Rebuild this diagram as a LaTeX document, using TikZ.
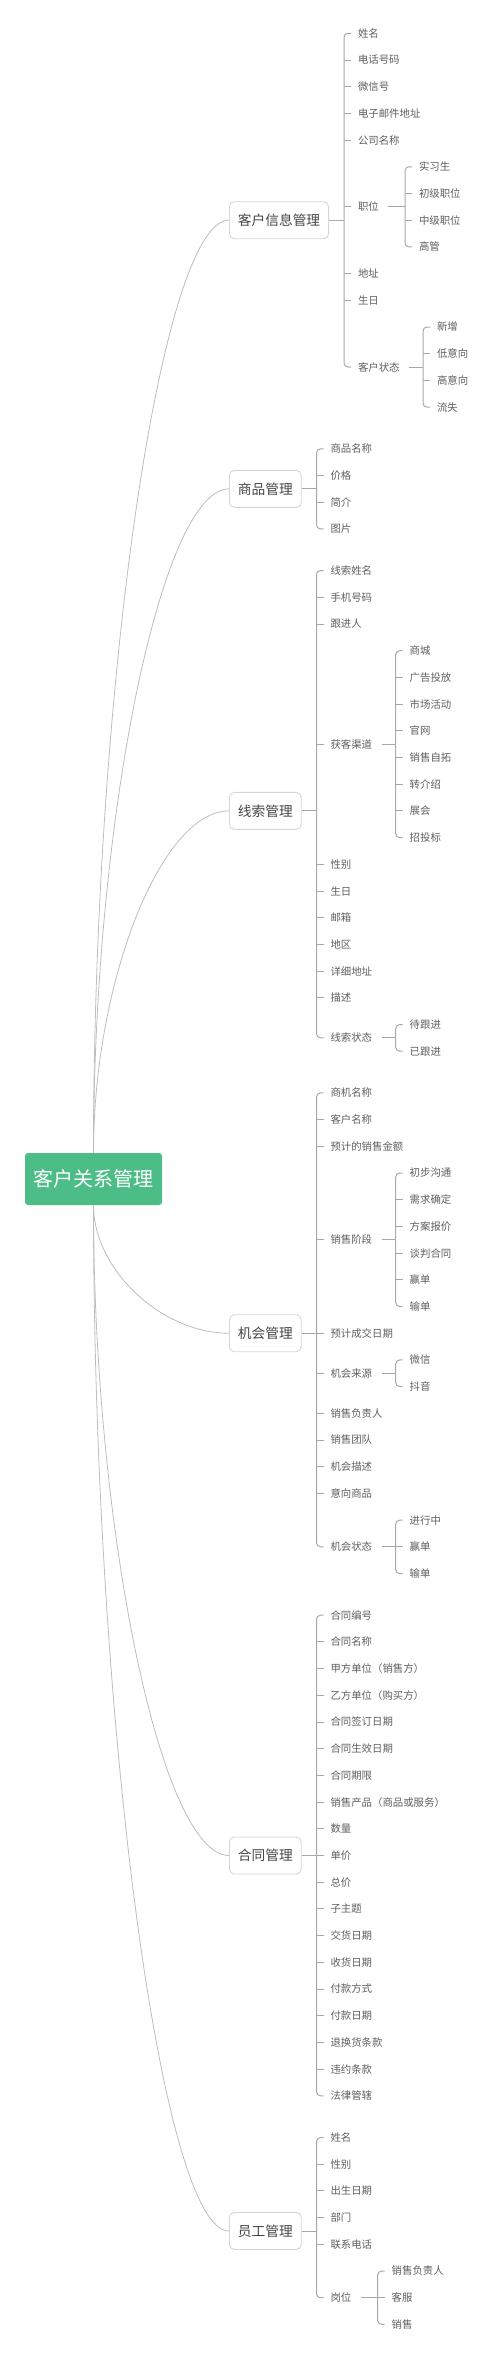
\documentclass[tikz,border=0pt]{standalone}
\usepackage{fontspec}
\setmainfont{Noto Sans CJK SC}
\definecolor{rootgreen}{HTML}{4DBD88}
\definecolor{topicline}{HTML}{D6D6D6}
\definecolor{topictext}{HTML}{454545}
\definecolor{leaftext}{HTML}{5E5E5E}
\definecolor{curvegray}{HTML}{BDBDBD}
\definecolor{bracegray}{HTML}{A8A8A8}

\begin{document}
\begin{tikzpicture}[x=1pt,y=-1pt,
  root/.style={fill=rootgreen,text=white,rounded corners=3pt,minimum height=52pt,inner xsep=8.5pt,font=\fontsize{20}{24}\selectfont},
  topic/.style={draw=topicline,line width=0.9pt,fill=white,rounded corners=5pt,minimum height=37pt,inner xsep=8.5pt,anchor=west,text=topictext,font=\fontsize{13.7}{16}\selectfont},
  leaf/.style={anchor=west,inner sep=0pt,outer xsep=7pt,outer ysep=0pt,text=leaftext,font=\fontsize{10.4}{12}\selectfont},
  trunk/.style={draw=curvegray,line width=0.8pt},
  brace/.style={draw=bracegray,line width=1pt,rounded corners=4pt},
  twig/.style={draw=bracegray,line width=0.9pt}]
\useasboundingbox (0,0) rectangle (500,2361);

% root
\node[root] (crm) at (93.5,1179) {客户关系管理};

% main topics
\node[topic] (kh) at (229,220.2) {客户信息管理};
\node[topic] (sp) at (229,488.85) {商品管理};
\node[topic] (xs) at (229,810.9) {线索管理};
\node[topic] (jh) at (229,1333.2) {机会管理};
\node[topic] (ht) at (229,1855.5) {合同管理};
\node[topic] (yg) at (229,2230.95) {员工管理};

\draw[trunk] (crm.north) .. controls (93.5,686.6) and (161,220.2) .. (kh.west);
\draw[trunk] (crm.north) .. controls (93.5,821) and (161,488.85) .. (sp.west);
\draw[trunk] (crm.north) .. controls (93.5,982) and (161,810.9) .. (xs.west);
\draw[trunk] (crm.south) .. controls (93.5,1269.1) and (161,1333.2) .. (jh.west);
\draw[trunk] (crm.south) .. controls (93.5,1530.3) and (161,1855.5) .. (ht.west);
\draw[trunk] (crm.south) .. controls (93.5,1718) and (161,2230.95) .. (yg.west);

% 客户信息管理
\node[leaf] (kh1) at (351,33.3) {姓名};
\node[leaf] (kh2) at (351,60.0) {电话号码};
\node[leaf] (kh3) at (351,86.7) {微信号};
\node[leaf] (kh4) at (351,113.4) {电子邮件地址};
\node[leaf] (kh5) at (351,140.1) {公司名称};
\node[leaf] (kh6) at (351,206.85) {职位};
\node[leaf] (kh7) at (351,273.6) {地址};
\node[leaf] (kh8) at (351,300.3) {生日};
\node[leaf] (kh9) at (351,367.05) {客户状态};
\node[leaf] (kh6a) at (412,166.8) {实习生};
\node[leaf] (kh6b) at (412,193.5) {初级职位};
\node[leaf] (kh6c) at (412,220.2) {中级职位};
\node[leaf] (kh6d) at (412,246.9) {高管};
\node[leaf] (kh9a) at (430,327.0) {新增};
\node[leaf] (kh9b) at (430,353.7) {低意向};
\node[leaf] (kh9c) at (430,380.4) {高意向};
\node[leaf] (kh9d) at (430,407.1) {流失};
\coordinate (kh-b) at (344,220.2);
\coordinate (kh6-b) at (405,206.85);
\coordinate (kh9-b) at (423,367.05);
\draw[twig] (kh.east) -- (kh-b);
\draw[brace] (kh1.west) -| (kh-b) |- (kh9.west);
\draw[twig] (kh-b |- kh2.west) -- (kh2.west) (kh-b |- kh3.west) -- (kh3.west)
  (kh-b |- kh4.west) -- (kh4.west) (kh-b |- kh5.west) -- (kh5.west)
  (kh-b |- kh6.west) -- (kh6.west) (kh-b |- kh7.west) -- (kh7.west)
  (kh-b |- kh8.west) -- (kh8.west);
\draw[twig,shorten <=2.5pt] (kh6.east) -- (kh6-b);
\draw[brace] (kh6a.west) -| (kh6-b) |- (kh6d.west);
\draw[twig] (kh6-b |- kh6b.west) -- (kh6b.west) (kh6-b |- kh6c.west) -- (kh6c.west);
\draw[twig,shorten <=2.5pt] (kh9.east) -- (kh9-b);
\draw[brace] (kh9a.west) -| (kh9-b) |- (kh9d.west);
\draw[twig] (kh9-b |- kh9b.west) -- (kh9b.west) (kh9-b |- kh9c.west) -- (kh9c.west);

% 商品管理
\node[leaf] (sp1) at (323.5,448.8) {商品名称};
\node[leaf] (sp2) at (323.5,475.5) {价格};
\node[leaf] (sp3) at (323.5,502.2) {简介};
\node[leaf] (sp4) at (323.5,528.9) {图片};
\coordinate (sp-b) at (316.5,488.85);
\draw[twig] (sp.east) -- (sp-b);
\draw[brace] (sp1.west) -| (sp-b) |- (sp4.west);
\draw[twig] (sp-b |- sp2.west) -- (sp2.west) (sp-b |- sp3.west) -- (sp3.west);

% 线索管理
\node[leaf] (xs1) at (323.5,570.6) {线索姓名};
\node[leaf] (xs2) at (323.5,597.3) {手机号码};
\node[leaf] (xs3) at (323.5,624.0) {跟进人};
\node[leaf] (xs4) at (323.5,744.15) {获客渠道};
\node[leaf] (xs5) at (323.5,864.3) {性别};
\node[leaf] (xs6) at (323.5,891.0) {生日};
\node[leaf] (xs7) at (323.5,917.7) {邮箱};
\node[leaf] (xs8) at (323.5,944.4) {地区};
\node[leaf] (xs9) at (323.5,971.1) {详细地址};
\node[leaf] (xs10) at (323.5,997.8) {描述};
\node[leaf] (xs11) at (323.5,1037.85) {线索状态};
\node[leaf] (xs4a) at (402.7,650.7) {商城};
\node[leaf] (xs4b) at (402.7,677.4) {广告投放};
\node[leaf] (xs4c) at (402.7,704.1) {市场活动};
\node[leaf] (xs4d) at (402.7,730.8) {官网};
\node[leaf] (xs4e) at (402.7,757.5) {销售自拓};
\node[leaf] (xs4f) at (402.7,784.2) {转介绍};
\node[leaf] (xs4g) at (402.7,810.9) {展会};
\node[leaf] (xs4h) at (402.7,837.6) {招投标};
\node[leaf] (xs11a) at (402.7,1024.5) {待跟进};
\node[leaf] (xs11b) at (402.7,1051.2) {已跟进};
\coordinate (xs-b) at (316.5,810.9);
\coordinate (xs4-b) at (395.7,744.15);
\coordinate (xs11-b) at (395.7,1037.85);
\draw[twig] (xs.east) -- (xs-b);
\draw[brace] (xs1.west) -| (xs-b) |- (xs11.west);
\draw[twig] (xs-b |- xs2.west) -- (xs2.west) (xs-b |- xs3.west) -- (xs3.west)
  (xs-b |- xs4.west) -- (xs4.west) (xs-b |- xs5.west) -- (xs5.west)
  (xs-b |- xs6.west) -- (xs6.west) (xs-b |- xs7.west) -- (xs7.west)
  (xs-b |- xs8.west) -- (xs8.west) (xs-b |- xs9.west) -- (xs9.west)
  (xs-b |- xs10.west) -- (xs10.west);
\draw[twig,shorten <=2.5pt] (xs4.east) -- (xs4-b);
\draw[brace] (xs4a.west) -| (xs4-b) |- (xs4h.west);
\draw[twig] (xs4-b |- xs4b.west) -- (xs4b.west) (xs4-b |- xs4c.west) -- (xs4c.west)
  (xs4-b |- xs4d.west) -- (xs4d.west) (xs4-b |- xs4e.west) -- (xs4e.west)
  (xs4-b |- xs4f.west) -- (xs4f.west) (xs4-b |- xs4g.west) -- (xs4g.west);
\draw[twig,shorten <=2.5pt] (xs11.east) -- (xs11-b);
\draw[brace] (xs11a.west) -| (xs11-b) |- (xs11b.west);

% 机会管理
\node[leaf] (jh1) at (323.5,1092.9) {商机名称};
\node[leaf] (jh2) at (323.5,1119.6) {客户名称};
\node[leaf] (jh3) at (323.5,1146.3) {预计的销售金额};
\node[leaf] (jh4) at (323.5,1239.75) {销售阶段};
\node[leaf] (jh5) at (323.5,1333.2) {预计成交日期};
\node[leaf] (jh6) at (323.5,1373.25) {机会来源};
\node[leaf] (jh7) at (323.5,1413.3) {销售负责人};
\node[leaf] (jh8) at (323.5,1440.0) {销售团队};
\node[leaf] (jh9) at (323.5,1466.7) {机会描述};
\node[leaf] (jh10) at (323.5,1493.4) {意向商品};
\node[leaf] (jh11) at (323.5,1546.8) {机会状态};
\node[leaf] (jh4a) at (402.7,1173.0) {初步沟通};
\node[leaf] (jh4b) at (402.7,1199.7) {需求确定};
\node[leaf] (jh4c) at (402.7,1226.4) {方案报价};
\node[leaf] (jh4d) at (402.7,1253.1) {谈判合同};
\node[leaf] (jh4e) at (402.7,1279.8) {赢单};
\node[leaf] (jh4f) at (402.7,1306.5) {输单};
\node[leaf] (jh6a) at (402.7,1359.9) {微信};
\node[leaf] (jh6b) at (402.7,1386.6) {抖音};
\node[leaf] (jh11a) at (402.7,1520.1) {进行中};
\node[leaf] (jh11b) at (402.7,1546.8) {赢单};
\node[leaf] (jh11c) at (402.7,1573.5) {输单};
\coordinate (jh-b) at (316.5,1333.2);
\coordinate (jh4-b) at (395.7,1239.75);
\coordinate (jh6-b) at (395.7,1373.25);
\coordinate (jh11-b) at (395.7,1546.8);
\draw[twig] (jh.east) -- (jh-b);
\draw[brace] (jh1.west) -| (jh-b) |- (jh11.west);
\draw[twig] (jh-b |- jh2.west) -- (jh2.west) (jh-b |- jh3.west) -- (jh3.west)
  (jh-b |- jh4.west) -- (jh4.west) (jh-b |- jh5.west) -- (jh5.west)
  (jh-b |- jh6.west) -- (jh6.west) (jh-b |- jh7.west) -- (jh7.west)
  (jh-b |- jh8.west) -- (jh8.west) (jh-b |- jh9.west) -- (jh9.west)
  (jh-b |- jh10.west) -- (jh10.west);
\draw[twig,shorten <=2.5pt] (jh4.east) -- (jh4-b);
\draw[brace] (jh4a.west) -| (jh4-b) |- (jh4f.west);
\draw[twig] (jh4-b |- jh4b.west) -- (jh4b.west) (jh4-b |- jh4c.west) -- (jh4c.west)
  (jh4-b |- jh4d.west) -- (jh4d.west) (jh4-b |- jh4e.west) -- (jh4e.west);
\draw[twig,shorten <=2.5pt] (jh6.east) -- (jh6-b);
\draw[brace] (jh6a.west) -| (jh6-b) |- (jh6b.west);
\draw[twig,shorten <=2.5pt] (jh11.east) -- (jh11-b);
\draw[brace] (jh11a.west) -| (jh11-b) |- (jh11c.west);
\draw[twig] (jh11-b) -- (jh11b.west);

% 合同管理
\node[leaf] (ht1) at (323.5,1615.2) {合同编号};
\node[leaf] (ht2) at (323.5,1641.9) {合同名称};
\node[leaf] (ht3) at (323.5,1668.6) {甲方单位（销售方）};
\node[leaf] (ht4) at (323.5,1695.3) {乙方单位（购买方）};
\node[leaf] (ht5) at (323.5,1722.0) {合同签订日期};
\node[leaf] (ht6) at (323.5,1748.7) {合同生效日期};
\node[leaf] (ht7) at (323.5,1775.4) {合同期限};
\node[leaf] (ht8) at (323.5,1802.1) {销售产品（商品或服务）};
\node[leaf] (ht9) at (323.5,1828.8) {数量};
\node[leaf] (ht10) at (323.5,1855.5) {单价};
\node[leaf] (ht11) at (323.5,1882.2) {总价};
\node[leaf] (ht12) at (323.5,1908.9) {子主题};
\node[leaf] (ht13) at (323.5,1935.6) {交货日期};
\node[leaf] (ht14) at (323.5,1962.3) {收货日期};
\node[leaf] (ht15) at (323.5,1989.0) {付款方式};
\node[leaf] (ht16) at (323.5,2015.7) {付款日期};
\node[leaf] (ht17) at (323.5,2042.4) {退换货条款};
\node[leaf] (ht18) at (323.5,2069.1) {违约条款};
\node[leaf] (ht19) at (323.5,2095.8) {法律管辖};
\coordinate (ht-b) at (316.5,1855.5);
\draw[twig] (ht.east) -- (ht-b);
\draw[brace] (ht1.west) -| (ht-b) |- (ht19.west);
\draw[twig] (ht-b |- ht2.west) -- (ht2.west) (ht-b |- ht3.west) -- (ht3.west)
  (ht-b |- ht4.west) -- (ht4.west) (ht-b |- ht5.west) -- (ht5.west)
  (ht-b |- ht6.west) -- (ht6.west) (ht-b |- ht7.west) -- (ht7.west)
  (ht-b |- ht8.west) -- (ht8.west) (ht-b |- ht9.west) -- (ht9.west)
  (ht-b |- ht10.west) -- (ht10.west) (ht-b |- ht11.west) -- (ht11.west)
  (ht-b |- ht12.west) -- (ht12.west) (ht-b |- ht13.west) -- (ht13.west)
  (ht-b |- ht14.west) -- (ht14.west) (ht-b |- ht15.west) -- (ht15.west)
  (ht-b |- ht16.west) -- (ht16.west) (ht-b |- ht17.west) -- (ht17.west)
  (ht-b |- ht18.west) -- (ht18.west);

% 员工管理
\node[leaf] (yg1) at (323.5,2137.5) {姓名};
\node[leaf] (yg2) at (323.5,2164.2) {性别};
\node[leaf] (yg3) at (323.5,2190.9) {出生日期};
\node[leaf] (yg4) at (323.5,2217.6) {部门};
\node[leaf] (yg5) at (323.5,2244.3) {联系电话};
\node[leaf] (yg6) at (323.5,2297.7) {岗位};
\node[leaf] (yg6a) at (384.7,2271.0) {销售负责人};
\node[leaf] (yg6b) at (384.7,2297.7) {客服};
\node[leaf] (yg6c) at (384.7,2324.4) {销售};
\coordinate (yg-b) at (316.5,2230.95);
\coordinate (yg6-b) at (377.7,2297.7);
\draw[twig] (yg.east) -- (yg-b);
\draw[brace] (yg1.west) -| (yg-b) |- (yg6.west);
\draw[twig] (yg-b |- yg2.west) -- (yg2.west) (yg-b |- yg3.west) -- (yg3.west)
  (yg-b |- yg4.west) -- (yg4.west) (yg-b |- yg5.west) -- (yg5.west);
\draw[twig,shorten <=2.5pt] (yg6.east) -- (yg6-b);
\draw[brace] (yg6a.west) -| (yg6-b) |- (yg6c.west);
\draw[twig] (yg6-b) -- (yg6b.west);
\end{tikzpicture}
\end{document}
